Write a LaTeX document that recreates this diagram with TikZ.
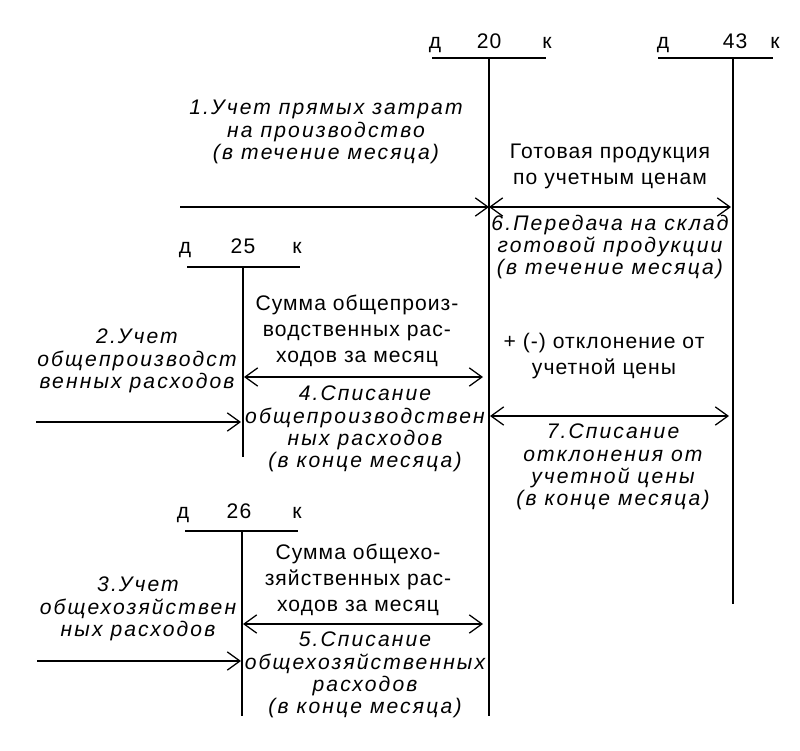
\documentclass[tikz,border=0pt]{standalone}
\usepackage{fontspec}
\setmainfont{Liberation Sans}
\newfontfamily\upfont{Liberation Sans}[LetterSpace=5]
\newfontfamily\opfont{Liberation Sans}[LetterSpace=10]
\usetikzlibrary{arrows.meta}
\tikzset{
  acct/.style={line width=1pt},
  flow/.style={line width=0.9pt,-{Straight Barb[length=9pt,width=13pt]}},
  both/.style={line width=0.9pt,{Straight Barb[length=9pt,width=13pt]}-{Straight Barb[length=9pt,width=13pt]}},
  head/.style={anchor=base,font=\upfont\fontsize{15}{17}\selectfont},
  note/.style={align=center,font=\upfont\fontsize{15}{18.5}\selectfont},
  op/.style={align=center,font=\opfont\itshape\fontsize{15}{15.8}\selectfont}
}

\begin{document}
\begin{tikzpicture}[x=0.025cm,y=-0.025cm]
  \useasboundingbox (0,0) rectangle (800,750);
  % T-accounts: number/vertical x/left/right/top/bottom
  \foreach \a/\x/\l/\r/\t/\b in {20/489/432/546/58/716,43/733/658/773/58/604,
                                 25/243/187/300/267/457,26/242/185/298/531/716}
    {\draw[acct] (\l,\t) -- (\r,\t); \draw[acct] (\x,\t) -- (\x,\b);}
  % headers д / number / к
  \foreach \a/\d/\n/\k/\y in {20/435/489/547/48,43/663/735/775/48,
                              25/185/243/297/253,26/183/239/297/518}
    {\node[head] (d\a) at (\d,\y) {д}; \node[head] (n\a) at (\n,\y) {\a};
     \node[head] (k\a) at (\k,\y) {к};}
  % arrow ends
  \coordinate (s1) at (180,207); \coordinate (e1) at (489,207);
  \coordinate (s2) at (36,422);  \coordinate (e2) at (241,422);
  \coordinate (s3) at (37,661);  \coordinate (e3) at (241,661);
  \coordinate (s4) at (244,377); \coordinate (e4) at (483,377);
  \coordinate (s5) at (243,624); \coordinate (e5) at (483,624);
  \coordinate (s6) at (489,207); \coordinate (e6) at (731,207);
  \coordinate (s7) at (490,416); \coordinate (e7) at (729,416);
  \draw[flow] (s1) -- (e1);
  \draw[flow] (s2) -- (e2);
  \draw[flow] (s3) -- (e3);
  \foreach \i in {4,5,6,7}
    \draw[both] (s\i) -- (e\i);
  % texts
  \node[op] (t1) at (326,132) {1.Учет прямых затрат\\на производство\\(в течение месяца)};
  \node[note] (t43) at (610,166) {Готовая продукция\\по учетным ценам};
  \node[op] (t6) at (610,247) {6.Передача на склад\\готовой продукции\\(в течение месяца)};
  \node[note] (t25) at (357,331) {Сумма общепроиз-\\водственных рас-\\ходов за месяц};
  \node[op] (t2) at (137,361) {2.Учет\\общепроизводст\\венных расходов};
  \node[note] (tdev) at (604,356) {+ (-) отклонение от\\учетной цены};
  \node[op] (t4) at (365,429) {4.Списание\\общепроизводствен\\ных расходов\\(в конце месяца)};
  \node[op] (t7) at (613,467) {7.Списание\\отклонения от\\учетной цены\\(в конце месяца)};
  \node[note] (t26) at (358,580) {Сумма общехо-\\зяйственных рас-\\ходов за месяц};
  \node[op] (t3) at (138,609) {3.Учет\\общехозяйствен\\ных расходов};
  \node[op] (t5) at (365,675) {5.Списание\\общехозяйственных\\расходов\\(в конце месяца)};
\end{tikzpicture}
\end{document}
